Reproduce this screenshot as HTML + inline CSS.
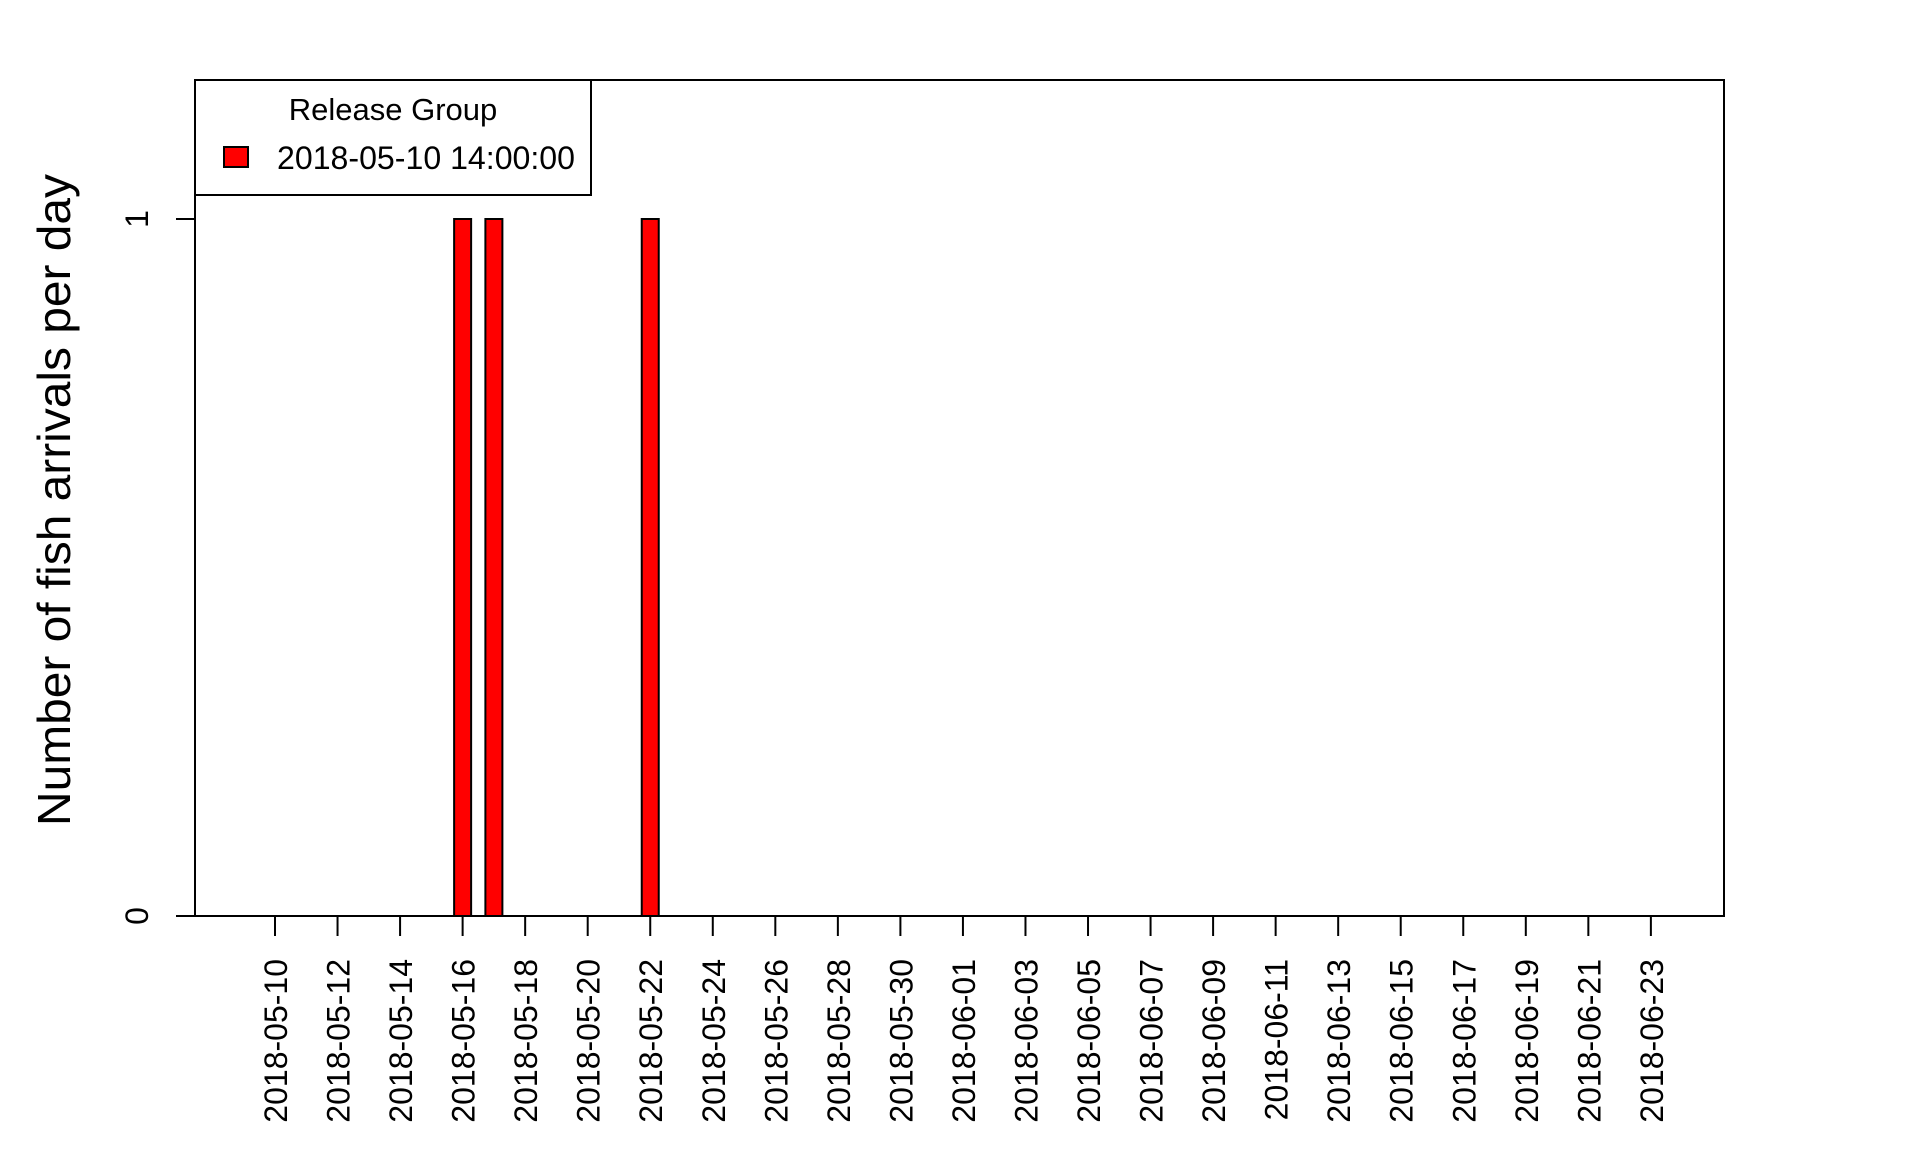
<!DOCTYPE html>
<html><head><meta charset="utf-8"><style>
html,body{margin:0;padding:0;background:#fff;}
svg{display:block;font-family:"Liberation Sans",Arial,sans-serif;}
</style></head>
<body>
<svg id="chart" width="1920" height="1152" viewBox="0 0 1920 1152" xmlns="http://www.w3.org/2000/svg">
<rect x="0" y="0" width="1920" height="1152" fill="#fff"/>
<g id="bars"></g>
<g id="xaxis"></g>
<g id="yaxis"></g>
<rect x="195" y="80" width="1529" height="836" fill="none" stroke="#000" stroke-width="2"/>
<text transform="translate(70,500) rotate(-90)" text-anchor="middle" font-size="46" textLength="652" lengthAdjust="spacingAndGlyphs">Number of fish arrivals per day</text>
<g>
<rect x="195" y="80" width="396" height="115" fill="#fff" stroke="#000" stroke-width="2"/>
<text x="393" y="120" text-anchor="middle" font-size="31">Release Group</text>
<rect x="224" y="147" width="24" height="20" fill="#ff0000" stroke="#000" stroke-width="2"/>
<text x="277" y="169" font-size="32" textLength="298" lengthAdjust="spacingAndGlyphs">2018-05-10 14:00:00</text>
</g>
</svg>
<script>
const tickLabels = ["2018-05-10","2018-05-12","2018-05-14","2018-05-16","2018-05-18","2018-05-20","2018-05-22","2018-05-24","2018-05-26","2018-05-28","2018-05-30","2018-06-01","2018-06-03","2018-06-05","2018-06-07","2018-06-09","2018-06-11","2018-06-13","2018-06-15","2018-06-17","2018-06-19","2018-06-21","2018-06-23"];
const barDates = ["2018-05-16","2018-05-17","2018-05-22"];
const barCounts = [1, 1, 1];
const yTicks = [0, 1];

const NS = "http://www.w3.org/2000/svg";
const day0 = Date.UTC(2018,4,10);
function dayIndex(s){const p=s.split("-");return (Date.UTC(+p[0],+p[1]-1,+p[2])-day0)/86400000;}
function xScale(s){return 275 + dayIndex(s)*31.27;}
function yScale(v){return 916 - v*(916-219);}

const bars=document.getElementById("bars");
barDates.forEach((d,i)=>{
  const r=document.createElementNS(NS,"rect");
  const cx=xScale(d);
  r.setAttribute("x",cx-8.5);
  r.setAttribute("y",yScale(barCounts[i]));
  r.setAttribute("width",17);
  r.setAttribute("height",yScale(0)-yScale(barCounts[i]));
  r.setAttribute("fill","#ff0000");
  r.setAttribute("stroke","#000");
  r.setAttribute("stroke-width","2");
  
  
  bars.appendChild(r);
});

const xa=document.getElementById("xaxis");
tickLabels.forEach(t=>{
  const x=xScale(t);
  const l=document.createElementNS(NS,"line");
  l.setAttribute("x1",x);l.setAttribute("x2",x);
  l.setAttribute("y1",916);l.setAttribute("y2",936);
  l.setAttribute("stroke","#000");l.setAttribute("stroke-width","2");
  
  
  xa.appendChild(l);
  const tx=document.createElementNS(NS,"text");
  tx.setAttribute("transform","translate("+(x+12)+",959) rotate(-90)");
  tx.setAttribute("text-anchor","end");
  tx.setAttribute("font-size","32");
  tx.textContent=t;
  
  
  xa.appendChild(tx);
});

const ya=document.getElementById("yaxis");
yTicks.forEach(v=>{
  const y=yScale(v);
  const l=document.createElementNS(NS,"line");
  l.setAttribute("x1",176);l.setAttribute("x2",195);
  l.setAttribute("y1",y);l.setAttribute("y2",y);
  l.setAttribute("stroke","#000");l.setAttribute("stroke-width","2");
  
  
  ya.appendChild(l);
  const tx=document.createElementNS(NS,"text");
  tx.setAttribute("transform","translate(148,"+y+") rotate(-90)");
  tx.setAttribute("text-anchor","middle");
  tx.setAttribute("font-size","32");
  tx.textContent=String(v);
  
  
  ya.appendChild(tx);
});
</script>
</body></html>
